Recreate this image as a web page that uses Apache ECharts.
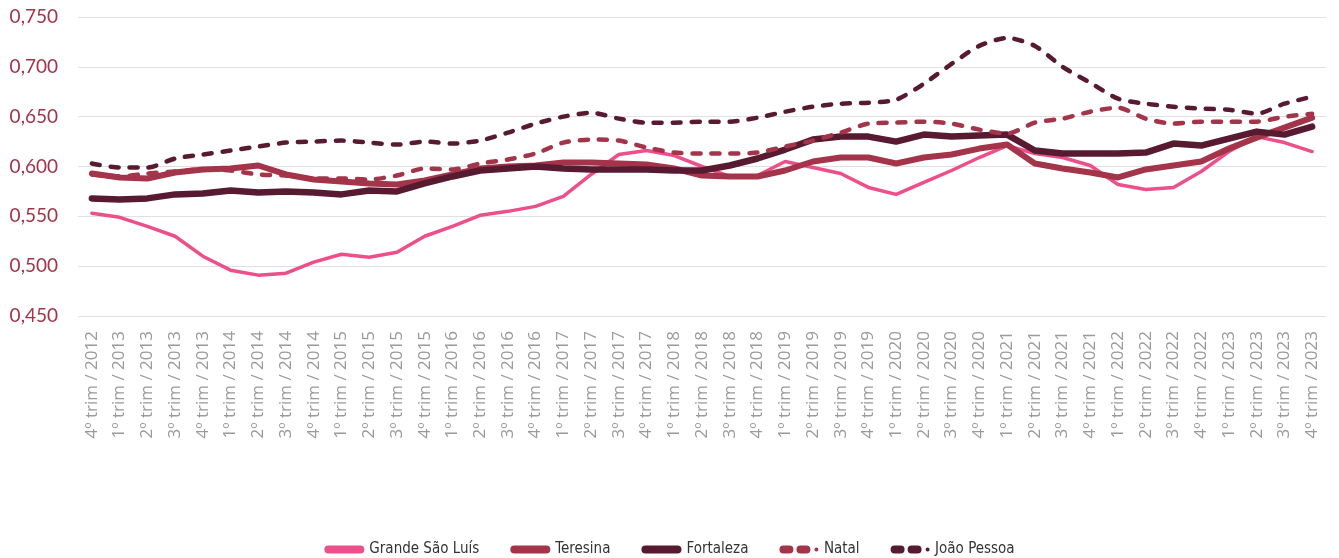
<!DOCTYPE html>
<html>
<head>
<meta charset="utf-8">
<script src="https://cdn.jsdelivr.net/npm/echarts@6/dist/echarts.min.js"></script>
<style>
html,body{margin:0;padding:0;background:#fff;}
#main{width:1339px;height:558px;}
</style>
</head>
<body>
<div id="main"></div>
<script>
const categories = (function(){
  const out = ['4º trim / 2012'];
  for (let y = 2013; y <= 2023; y++) {
    for (let q = 1; q <= 4; q++) out.push(q + 'º trim / ' + y);
  }
  return out;
})();

const grandeSaoLuis = [0.553,0.549,0.540,0.530,0.510,0.496,0.491,0.493,0.504,0.512,0.509,0.514,0.530,0.540,0.551,0.555,0.560,0.570,0.592,0.612,0.616,0.611,0.600,0.590,0.591,0.605,0.599,0.593,0.579,0.572,0.584,0.596,0.609,0.621,0.613,0.609,0.601,0.582,0.577,0.579,0.595,0.615,0.630,0.624,0.615];
const teresina = [0.593,0.589,0.588,0.594,0.597,0.598,0.601,0.592,0.587,0.585,0.583,0.582,0.586,0.592,0.598,0.600,0.601,0.604,0.604,0.603,0.602,0.598,0.591,0.590,0.590,0.596,0.605,0.609,0.609,0.603,0.609,0.612,0.618,0.622,0.603,0.598,0.594,0.589,0.597,0.601,0.605,0.618,0.629,0.639,0.649];
const fortaleza = [0.568,0.567,0.568,0.572,0.573,0.576,0.574,0.575,0.574,0.572,0.576,0.575,0.583,0.590,0.596,0.598,0.600,0.598,0.597,0.597,0.597,0.596,0.596,0.601,0.608,0.617,0.627,0.630,0.630,0.625,0.632,0.630,0.631,0.632,0.616,0.613,0.613,0.613,0.614,0.623,0.621,0.628,0.635,0.632,0.640];
const natal = [0.592,0.590,0.593,0.595,0.597,0.596,0.592,0.591,0.588,0.588,0.587,0.591,0.598,0.597,0.603,0.607,0.613,0.624,0.627,0.626,0.619,0.614,0.613,0.613,0.614,0.620,0.626,0.634,0.643,0.644,0.645,0.643,0.637,0.633,0.644,0.648,0.655,0.659,0.648,0.643,0.645,0.645,0.645,0.650,0.653];
const joaoPessoa = [0.603,0.599,0.599,0.608,0.612,0.616,0.620,0.624,0.625,0.626,0.624,0.622,0.625,0.623,0.626,0.634,0.643,0.650,0.654,0.648,0.644,0.644,0.645,0.645,0.649,0.655,0.660,0.663,0.664,0.667,0.683,0.703,0.721,0.729,0.721,0.700,0.684,0.668,0.663,0.660,0.658,0.657,0.653,0.663,0.670];

const seriesNames = ['Grande São Luís','Teresina','Fortaleza','Natal','João Pessoa'];
const yMin = 0.45, yMax = 0.75, yStep = 0.05;

const PINK = '#ec4f8a', RED = '#a3344a', DARK = '#571a31';

const SOLID_ICON = 'path://M4,0 H36 A4,4 0 0 1 36,8 H4 A4,4 0 0 1 4,0 Z';
const DASH_ICON = 'path://M4,0 H10 A4,4 0 0 1 10,8 H4 A4,4 0 0 1 4,0 Z M21,0 H27 A4,4 0 0 1 27,8 H21 A4,4 0 0 1 21,0 Z M37,2 A2,2 0 1 1 37,6 A2,2 0 1 1 37,2 Z';

const chart = echarts.init(document.getElementById('main'));
chart.setOption({
  animation: false,
  backgroundColor: '#ffffff',
  grid: {left: 78, right: 13, top: 17, bottom: 242, containLabel: false},
  legend: {
    top: 537,
    left: 'center',
    itemWidth: 40,
    itemHeight: 8,
    itemGap: 31,
    textStyle: {color: '#333333', fontSize: 15, fontFamily: 'Liberation Sans Narrow, DejaVu Sans Condensed, Roboto, sans-serif'},
    data: [
      {name: seriesNames[0], icon: SOLID_ICON},
      {name: seriesNames[1], icon: SOLID_ICON},
      {name: seriesNames[2], icon: SOLID_ICON},
      {name: seriesNames[3], icon: DASH_ICON},
      {name: seriesNames[4], icon: DASH_ICON}
    ]
  },
  xAxis: {
    type: 'category',
    data: categories,
    boundaryGap: true,
    axisLine: {show: false},
    axisTick: {show: false},
    axisLabel: {
      rotate: 90,
      interval: 0,
      margin: 15,
      color: '#9a9a9a',
      fontSize: 17,
      fontFamily: 'Open Sans, sans-serif'
    }
  },
  yAxis: {
    type: 'value',
    min: yMin,
    max: yMax,
    interval: yStep,
    axisLine: {show: false},
    axisTick: {show: false},
    splitLine: {lineStyle: {color: '#e0e0e0', width: 1}},
    axisLabel: {
      margin: 20,
      color: RED,
      fontSize: 19,
      fontFamily: 'Lato, Open Sans, sans-serif',
      formatter: v => v.toFixed(3).replace('.', ',')
    }
  },
  series: [
    {name: seriesNames[0], type: 'line', data: grandeSaoLuis, symbol: 'none', color: PINK,
     lineStyle: {color: PINK, width: 3.5, cap: 'round', join: 'round'}},
    {name: seriesNames[1], type: 'line', data: teresina, symbol: 'none', color: RED,
     lineStyle: {color: RED, width: 6, cap: 'round', join: 'round'}},
    {name: seriesNames[2], type: 'line', data: fortaleza, symbol: 'none', color: DARK,
     lineStyle: {color: DARK, width: 6.5, cap: 'round', join: 'round'}},
    {name: seriesNames[3], type: 'line', data: natal, symbol: 'none', color: RED, smooth: 0.25,
     lineStyle: {color: RED, width: 4.5, type: [8, 11], cap: 'round', join: 'round'}},
    {name: seriesNames[4], type: 'line', data: joaoPessoa, symbol: 'none', color: DARK, smooth: 0.25,
     lineStyle: {color: DARK, width: 4.5, type: [8, 11], cap: 'round', join: 'round'}}
  ]
});
</script>
</body>
</html>
